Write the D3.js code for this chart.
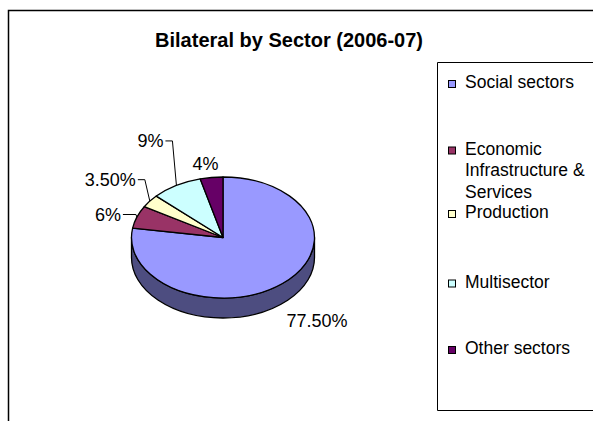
<!DOCTYPE html>
<html lang="en">
<head>
    <meta charset="UTF-8">
    <script src="https://d3js.org/d3.v7.min.js"></script>
    <title>Bilateral by Sector (2006-07)</title>
    <style>
        body {
            margin: 0;
            background: #fff;
            font-family: "Liberation Sans", Arial, sans-serif;
        }
        svg text {
            fill: #000;
        }
    </style>
</head>
<body>
    <svg id="chart" width="593" height="421"></svg>

    <script>
        const categories = ["Social sectors", "Economic Infrastructure & Services", "Production", "Multisector", "Other sectors"];
        const legendLines = [["Social sectors"], ["Economic", "Infrastructure &", "Services"], ["Production"], ["Multisector"], ["Other sectors"]];
        const values = [77.5, 6, 3.5, 9, 4];
        const valueLabels = ["77.50%", "6%", "3.50%", "9%", "4%"];
        const colors = ["#9999ff", "#993366", "#ffffcc", "#ccffff", "#660066"];
        const sideColors = ["#4d4d80", "#4d1a33", "#808066", "#668080", "#330033"];

        const svg = d3.select("#chart");

        // outer chart frame (runs off the right and bottom edge)
        svg.append("path")
            .attr("d", "M8.5,430 L8.5,10.5 L600,10.5")
            .attr("fill", "none")
            .attr("stroke", "#000")
            .attr("stroke-width", 1.5);

        svg.append("text")
            .attr("x", 289)
            .attr("y", 47)
            .attr("text-anchor", "middle")
            .style("font-size", "20px")
            .style("font-weight", "bold")
            .text("Bilateral by Sector (2006-07)");

        // pie geometry
        const cx = 223, cy = 237.5, rx = 91.5, ry = 60.5, depth = 20;
        const pt = a => [cx + rx * Math.sin(a), cy - ry * Math.cos(a)];

        const pie = d3.pie().sort(null).value(d => d)
            .startAngle(0).endAngle(2 * Math.PI);
        const arcs = pie(values);

        // side wall, only the front half (PI/2 .. 3PI/2) shows
        const side = svg.append("g");
        arcs.forEach((d, i) => {
            const s = Math.max(d.startAngle, Math.PI / 2);
            const e = Math.min(d.endAngle, 3 * Math.PI / 2);
            if (e <= s) return;
            const p0 = pt(s), p1 = pt(e);
            const large = (e - s) > Math.PI ? 1 : 0;
            const top = `A${rx},${ry} 0 ${large} 1 ${p1[0]},${p1[1]}`;
            const bot = `A${rx},${ry} 0 ${large} 0 ${p0[0]},${p0[1] + depth}`;
            side.append("path")
                .attr("d", `M${p0[0]},${p0[1]} ${top} L${p1[0]},${p1[1] + depth} ${bot} Z`)
                .attr("fill", sideColors[i])
                .attr("stroke", "#000")
                .attr("stroke-width", 1.3)
                .attr("stroke-linejoin", "round");
        });

        // top face: circular arcs squashed to an ellipse
        const arc = d3.arc().innerRadius(0).outerRadius(rx);
        svg.append("g")
            .attr("transform", `translate(${cx},${cy}) scale(1,${ry / rx})`)
            .selectAll("path")
            .data(arcs)
            .join("path")
            .attr("d", arc)
            .attr("fill", (d, i) => colors[i])
            .attr("stroke", "#000")
            .attr("stroke-width", 1.3)
            .attr("vector-effect", "non-scaling-stroke")
            .attr("stroke-linejoin", "round");

        // data labels: offset from the slice mid point on the rim
        const labelPos = [
            { dx: 4, dy: 43.5, anchor: "start", leader: false },
            { dx: -16, dy: 4, anchor: "end", leader: true, elbow: -1 },
            { dx: -14, dy: -15, anchor: "end", leader: true, elbow: -5 },
            { dx: -13, dy: -38, anchor: "end", leader: true, elbow: -4 },
            { dx: -6, dy: -7.5, anchor: "middle", leader: false }
        ];
        const labels = svg.append("g").style("font-size", "18px");
        arcs.forEach((d, i) => {
            const m = pt((d.startAngle + d.endAngle) / 2);
            const o = labelPos[i];
            const tx = m[0] + o.dx, ty = m[1] + o.dy;
            labels.append("text")
                .attr("x", tx)
                .attr("y", ty)
                .attr("text-anchor", o.anchor)
                .text(valueLabels[i]);
            if (o.leader) {
                const ly = ty - 6.5;
                labels.append("polyline")
                    .attr("points", [[tx + 2, ly], [m[0] + o.elbow, ly], m].map(p => p.join(",")).join(" "))
                    .attr("fill", "none")
                    .attr("stroke", "#000")
                    .attr("stroke-width", 1);
            }
        });

        // legend
        const legend = svg.append("g");
        legend.append("path")
            .attr("d", "M600,62.5 L437.5,62.5 L437.5,410.5 L600,410.5")
            .attr("fill", "#fff")
            .attr("stroke", "#000")
            .attr("stroke-width", 1);

        const ly = d3.scaleLinear().domain([0, categories.length - 1]).range([88, 354]);
        categories.forEach((c, i) => {
            const y = i === 2 ? ly(i) - 3 : ly(i);
            legend.append("rect")
                .attr("x", 448.5)
                .attr("y", y - 7.5)
                .attr("width", 7)
                .attr("height", 7)
                .attr("fill", colors[i])
                .attr("stroke", "#000")
                .attr("stroke-width", 1);
            const t = legend.append("text")
                .attr("x", 465)
                .attr("y", y)
                .style("font-size", "17.5px");
            legendLines[i].forEach((line, j) => {
                t.append("tspan")
                    .attr("x", 465)
                    .attr("dy", j === 0 ? 0 : 21.5)
                    .text(line);
            });
        });
    </script>
</body>
</html>
